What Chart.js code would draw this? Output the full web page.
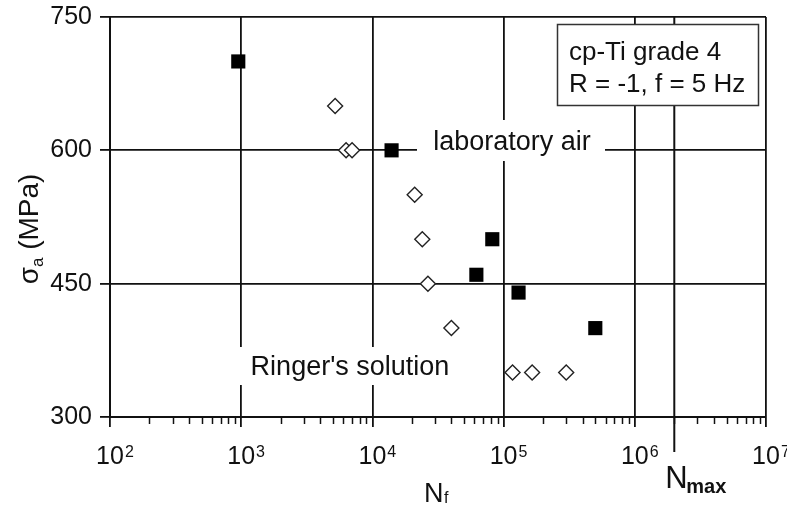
<!DOCTYPE html>
<html><head><meta charset="utf-8">
<script src="https://cdn.jsdelivr.net/npm/chart.js@4"></script>
<style>html,body{margin:0;padding:0;background:#fff}#wrap{width:787px;height:507px}</style>
</head><body><div id="wrap"><canvas id="c" width="787" height="507"></canvas></div>
<script>
// ---- data ----
const airCycles    = [950, 14000, 82000, 62000, 130000, 500000];
const airStress    = [700, 600, 500, 460, 440, 400];
const ringerCycles = [5200, 6300, 7000, 21000, 24000, 26500, 40000, 117000, 165000, 300000];
const ringerStress = [650, 600, 600, 550, 500, 450, 400, 350, 350, 350];
const xTickValues  = [1e2, 1e3, 1e4, 1e5, 1e6, 1e7];
const xTickBase    = '10';
const xTickExps    = ['2', '3', '4', '5', '6', '7'];
const yTickValues  = [300, 450, 600, 750];
const nMax         = 2e6;
const seriesNames  = ['laboratory air', "Ringer's solution"];
const infoLines    = ['cp-Ti grade 4', 'R = -1, f = 5 Hz'];

const FONT = '"Liberation Sans", Arial, sans-serif';
const INK = '#111';
const TICK_SIZE = 25;

const toPoints = (xs, ys) => xs.map((x, i) => ({x: x, y: ys[i]}));
const noPad = s => { s.paddingLeft = 0; s.paddingRight = 0; s.paddingTop = 0; s.paddingBottom = 0; };

const annotPlugin = {
  id: 'annot',
  beforeDatasetsDraw(chart) {
    const ctx = chart.ctx, a = chart.chartArea;
    const xs = chart.scales.x;
    ctx.save();
    // minor ticks on the log axis
    ctx.strokeStyle = INK; ctx.lineWidth = 1.5;
    for (let d = 2; d < 7; d++) {
      for (let m = 2; m <= 9; m++) {
        const px = Math.round(xs.getPixelForValue(m * Math.pow(10, d))) + 0.5;
        ctx.beginPath(); ctx.moveTo(px, a.bottom); ctx.lineTo(px, a.bottom + 7); ctx.stroke();
      }
    }
    // N_max line
    const nx = xs.getPixelForValue(nMax);
    ctx.lineWidth = 2;
    ctx.beginPath(); ctx.moveTo(nx, a.top); ctx.lineTo(nx, a.bottom + 35); ctx.stroke();

    // series labels with white backgrounds
    ctx.fillStyle = '#fff';
    ctx.fillRect(417, 120, 188, 41);
    ctx.fillRect(234, 347, 222, 38);
    ctx.fillStyle = INK;
    ctx.font = '27px ' + FONT;
    ctx.textAlign = 'center'; ctx.textBaseline = 'alphabetic';
    ctx.fillText(seriesNames[0], 512, 150);
    ctx.fillText(seriesNames[1], 350, 375);

    // info box
    ctx.fillStyle = '#fff';
    ctx.fillRect(557, 24, 202, 82);
    ctx.strokeStyle = '#333'; ctx.lineWidth = 1.5;
    ctx.strokeRect(557.5, 24.5, 201, 81);
    ctx.fillStyle = INK; ctx.textAlign = 'left';
    ctx.font = '26px ' + FONT;
    ctx.fillText(infoLines[0], 569, 60);
    ctx.fillText(infoLines[1], 569, 92);
    ctx.restore();
  },
  afterDraw(chart) {
    const ctx = chart.ctx, a = chart.chartArea;
    const xs = chart.scales.x;
    ctx.save();
    // exponents of the x tick labels
    ctx.fillStyle = INK; ctx.textBaseline = 'alphabetic'; ctx.textAlign = 'left';
    ctx.font = TICK_SIZE + 'px ' + FONT;
    const half = ctx.measureText(xTickBase).width / 2;
    ctx.font = '16px ' + FONT;
    xTickValues.forEach((v, i) => {
      ctx.fillText(xTickExps[i], xs.getPixelForValue(v) + half + 1, a.bottom + 40);
    });

    // y title: sigma_a (MPa)
    ctx.translate(38, 229);
    ctx.rotate(-Math.PI / 2);
    const f1 = '28px ' + FONT, f2 = '17px ' + FONT;
    ctx.font = f1; const w1 = ctx.measureText('σ').width;
    ctx.font = f2; const w2 = ctx.measureText('a').width;
    ctx.font = f1; const w3 = ctx.measureText(' (MPa)').width;
    let x0 = -(w1 + w2 + w3) / 2;
    ctx.font = f1; ctx.fillText('σ', x0, 0);
    ctx.font = f2; ctx.fillText('a', x0 + w1, 5);
    ctx.font = f1; ctx.fillText(' (MPa)', x0 + w1 + w2, 0);
    ctx.restore();

    ctx.save();
    ctx.fillStyle = INK; ctx.textBaseline = 'alphabetic'; ctx.textAlign = 'left';
    // x title: N_f
    ctx.font = '27px ' + FONT; ctx.fillText('N', 424, 502);
    ctx.font = '16px ' + FONT; ctx.fillText('f', 444, 503);
    // N_max label under the N_max line
    const nx = xs.getPixelForValue(nMax);
    ctx.font = '31px ' + FONT; ctx.fillText('N', nx - 9, 488);
    ctx.font = 'bold 20px ' + FONT; ctx.fillText('max', nx + 12, 493);
    ctx.restore();
  }
};

new Chart(document.getElementById('c'), {
  type: 'scatter',
  data: {
    datasets: [
      {
        label: seriesNames[0],
        data: toPoints(airCycles, airStress),
        pointStyle: 'rect', radius: 10, hoverRadius: 10,
        backgroundColor: '#000', borderColor: '#000', borderWidth: 0
      },
      {
        label: seriesNames[1],
        data: toPoints(ringerCycles, ringerStress),
        pointStyle: 'rectRot', radius: 7.5, hoverRadius: 7.5,
        backgroundColor: '#fff', borderColor: '#222', borderWidth: 1.4
      }
    ]
  },
  options: {
    responsive: false,
    devicePixelRatio: 1,
    animation: false,
    events: [],
    layout: {padding: {left: 0, top: 17, right: 21, bottom: 0}},
    plugins: {legend: {display: false}, tooltip: {enabled: false}},
    scales: {
      x: {
        type: 'logarithmic', min: 1e2, max: 1e7,
        afterBuildTicks: s => { s.ticks = xTickValues.map(v => ({value: v, major: true})); },
        afterFit: s => { s.height = 90; noPad(s); },
        ticks: {
          autoSkip: false, maxRotation: 0, padding: 15,
          color: INK, font: {family: FONT, size: TICK_SIZE},
          callback: () => xTickBase
        },
        grid: {color: INK, lineWidth: 1.8, tickLength: 10, tickColor: INK},
        border: {color: INK, width: 2}
      },
      y: {
        type: 'linear', min: 300, max: 750,
        afterBuildTicks: s => { s.ticks = yTickValues.map(v => ({value: v})); },
        afterFit: s => { s.width = 110; noPad(s); },
        ticks: {padding: 8, color: INK, font: {family: FONT, size: TICK_SIZE}},
        grid: {color: INK, lineWidth: 1.8, tickLength: 10, tickColor: INK},
        border: {color: INK, width: 2}
      }
    }
  },
  plugins: [annotPlugin]
});
</script>
</body></html>
